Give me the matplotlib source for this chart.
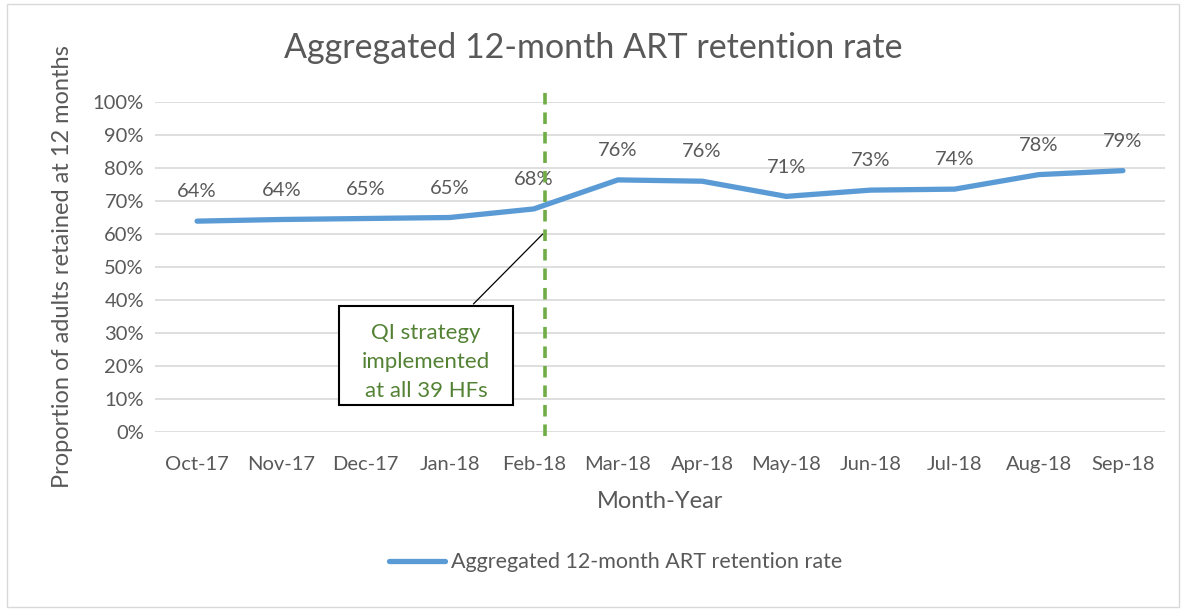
import matplotlib.pyplot as plt
from matplotlib.patches import Rectangle

plt.rcParams['font.family'] = ['Lato', 'DejaVu Sans']

months = ['Oct-17', 'Nov-17', 'Dec-17', 'Jan-18', 'Feb-18', 'Mar-18',
          'Apr-18', 'May-18', 'Jun-18', 'Jul-18', 'Aug-18', 'Sep-18']
retention = [0.639, 0.644, 0.647, 0.650, 0.676, 0.764,
             0.760, 0.714, 0.733, 0.736, 0.780, 0.792]
labels = ['64%', '64%', '65%', '65%', '68%', '76%',
          '76%', '71%', '73%', '74%', '78%', '79%']
yticks = [i / 10 for i in range(11)]
qi_pos = 4.13
series_name = 'Aggregated 12-month ART retention rate'

grey = '#595959'
blue = '#5b9bd5'
green = '#70ad47'

fig = plt.figure(figsize=(11.86, 6.09), dpi=100)
ax = fig.add_axes([0.1307, 0.2906, 0.8516, 0.5419])

x = list(range(len(months)))
ax.plot(x, retention, color=blue, lw=3.8, solid_capstyle='round',
        solid_joinstyle='round', label=series_name, zorder=3)

for xi, yi, lab in zip(x, retention, labels):
    ax.annotate(lab, (xi, yi), xytext=(0, 15), textcoords='offset points',
                ha='center', va='bottom', fontsize=14.5, color=grey, zorder=4)

ax.set_xlim(-0.5, 11.5)
ax.set_ylim(0, 1.0)
ax.set_yticks(yticks)
ax.set_yticklabels([f'{int(round(t * 100))}%' for t in yticks])
ax.set_xticks(x)
ax.set_xticklabels(months)
ax.tick_params(axis='both', length=0, labelsize=14.5, labelcolor=grey)
ax.tick_params(axis='x', pad=17)
ax.tick_params(axis='y', pad=8)
ax.grid(axis='y', color='#d9d9d9', lw=1.2)
ax.set_axisbelow(True)
for s in ax.spines.values():
    s.set_visible(False)

ax.set_xlabel('Month-Year', fontsize=17, color=grey, labelpad=13)
ax.set_ylabel('Proportion of adults retained at 12 months', fontsize=17,
              color=grey, labelpad=14)
fig.text(0.5, 0.921, series_name, ha='center', va='center',
         fontsize=24.5, color=grey)

# QI strategy vertical line
ax.plot([qi_pos, qi_pos], [-0.012, 1.042], color=green, lw=2.6,
        ls=(0, (3.2, 2.2)), clip_on=False, zorder=5)

# callout box with leader line
ax.annotate('', xy=(qi_pos, 0.606), xytext=(3.26, 0.382),
            arrowprops=dict(arrowstyle='-', color='black', lw=0.9))
ax.add_patch(Rectangle((1.69, 0.082), 2.06, 0.3, facecolor='white',
                       edgecolor='black', lw=1.5, zorder=6))
ax.text(2.72, 0.212, 'QI strategy\nimplemented\nat all 39 HFs', ha='center',
        va='center', fontsize=16, color='#548235', linespacing=1.55, zorder=7)

leg = fig.legend(loc='center', bbox_to_anchor=(0.519, 0.077), frameon=False,
                 fontsize=15.5, handlelength=2.6, handletextpad=0.3)
for t in leg.get_texts():
    t.set_color(grey)

fig.patches.append(Rectangle((0.006, 0.004), 0.988, 0.99,
                             transform=fig.transFigure, fill=False,
                             edgecolor='#d9d9d9', lw=1))

fig.savefig('out.png', dpi=100)
